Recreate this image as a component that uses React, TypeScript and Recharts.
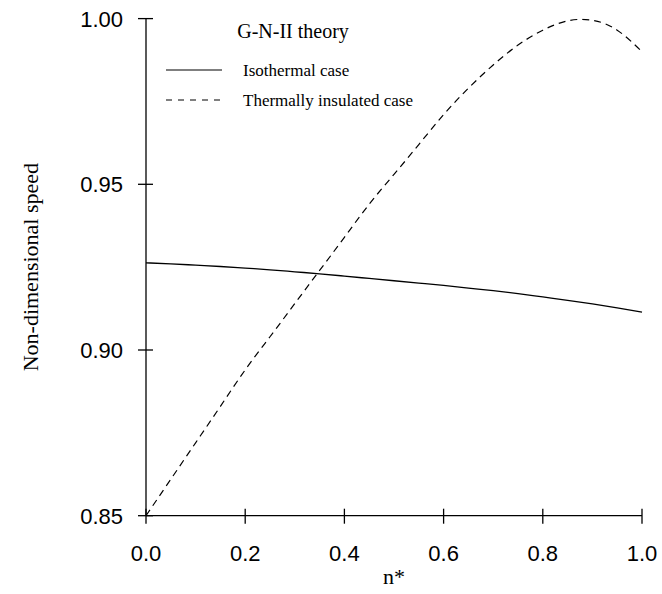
import React from 'react';
import { LineChart, Line, XAxis, YAxis, Legend } from 'recharts';

// n* sample points
const nStar = [
  0, 0.05, 0.1, 0.15, 0.2, 0.25, 0.3, 0.35, 0.4, 0.45, 0.5,
  0.55, 0.6, 0.65, 0.7, 0.75, 0.8, 0.85, 0.9, 0.95, 1.0,
];

// Isothermal case (solid)
const isothermal = [
  0.9263, 0.926, 0.9256, 0.9252, 0.9247, 0.9242, 0.9236, 0.923, 0.9223, 0.9216, 0.9209,
  0.9202, 0.9195, 0.9187, 0.9179, 0.917, 0.916, 0.915, 0.9139, 0.9127, 0.9114,
];

// Thermally insulated case (dashed)
const insulated = [
  0.85, 0.861, 0.872, 0.883, 0.894, 0.904, 0.914, 0.924, 0.934, 0.944, 0.953,
  0.962, 0.971, 0.979, 0.986, 0.992, 0.9965, 0.9993, 0.9995, 0.9965, 0.99,
];

const xTicks = [0, 0.2, 0.4, 0.6, 0.8, 1.0];
const yTicks = [0.85, 0.9, 0.95, 1.0];

const data = nStar.map((n, i) => ({ n, iso: isothermal[i], ins: insulated[i] }));

const SANS = '"Liberation Sans", Arial, sans-serif';
const SERIF = '"Liberation Serif", "Times New Roman", serif';

// ticks cross the axis line, like the original figure
const XTick = ({ x, y, payload }: any) => (
  <g>
    <line x1={x} x2={x} y1={y - 7} y2={y + 8} stroke="#000" strokeWidth={1.3} />
    <text x={x} y={y + 45} textAnchor="middle" fontSize={22} fontFamily={SANS} fill="#000">
      {Number(payload.value).toFixed(1)}
    </text>
  </g>
);

const YTick = ({ x, y, payload }: any) => (
  <g>
    <line x1={x - 8} x2={x + 7} y1={y} y2={y} stroke="#000" strokeWidth={1.3} />
    <text x={x - 23} y={y + 8} textAnchor="end" fontSize={22} fontFamily={SANS} fill="#000">
      {Number(payload.value).toFixed(2)}
    </text>
  </g>
);

const renderLegend = (props: any) => {
  const items = props.payload || [];
  return (
    <svg width={330} height={115} style={{ display: 'block' }}>
      <text x={143} y={38} textAnchor="middle" fontSize={20} fontFamily={SERIF} fill="#000">
        G-N-II theory
      </text>
      {items.map((entry: any, i: number) => {
        const cy = 70 + i * 30;
        const dash = entry.payload && entry.payload.strokeDasharray ? '6 6' : undefined;
        return (
          <g key={entry.value}>
            <line x1={16} x2={72} y1={cy} y2={cy} stroke="#000" strokeWidth={1.2} strokeDasharray={dash} />
            <text x={93} y={cy + 5.5} fontSize={17} fontFamily={SERIF} fill="#000">
              {entry.value}
            </text>
          </g>
        );
      })}
    </svg>
  );
};

export default function App() {
  return (
    <div style={{ position: 'absolute', left: 0, top: 0, background: '#fff' }}>
      <LineChart
        width={662}
        height={594}
        data={data}
        margin={{ top: 18.6, right: 20, bottom: 0, left: 0 }}
      >
        <XAxis
          dataKey="n"
          type="number"
          domain={[0, 1]}
          ticks={xTicks}
          tickLine={false}
          tickSize={0}
          tickMargin={0}
          tick={<XTick />}
          height={78.3}
          axisLine={{ stroke: '#000', strokeWidth: 1.3 }}
          label={{
            value: 'n*',
            position: 'insideBottom',
            offset: 10,
            style: { fontFamily: SERIF, fontSize: 22, fill: '#000' },
          }}
        />
        <YAxis
          type="number"
          domain={[0.85, 1.0]}
          ticks={yTicks}
          allowDataOverflow
          tickLine={false}
          tickSize={0}
          tickMargin={0}
          tick={<YTick />}
          width={146}
          axisLine={{ stroke: '#000', strokeWidth: 1.3 }}
          label={{
            value: 'Non-dimensional speed',
            angle: -90,
            position: 'insideLeft',
            offset: 30,
            style: { fontFamily: SERIF, fontSize: 22, fill: '#000', textAnchor: 'middle' },
          }}
        />
        <Legend
          layout="horizontal"
          verticalAlign="middle"
          align="center"
          content={renderLegend}
          wrapperStyle={{ position: 'absolute', left: 150, top: 0, width: 330, height: 115 }}
        />
        <Line
          name="Isothermal case"
          dataKey="iso"
          type="natural"
          stroke="#000"
          strokeWidth={1.3}
          dot={false}
          activeDot={false}
          isAnimationActive={false}
        />
        <Line
          name="Thermally insulated case"
          dataKey="ins"
          type="natural"
          stroke="#000"
          strokeWidth={1.2}
          strokeDasharray="7 5"
          dot={false}
          activeDot={false}
          isAnimationActive={false}
        />
      </LineChart>
    </div>
  );
}
